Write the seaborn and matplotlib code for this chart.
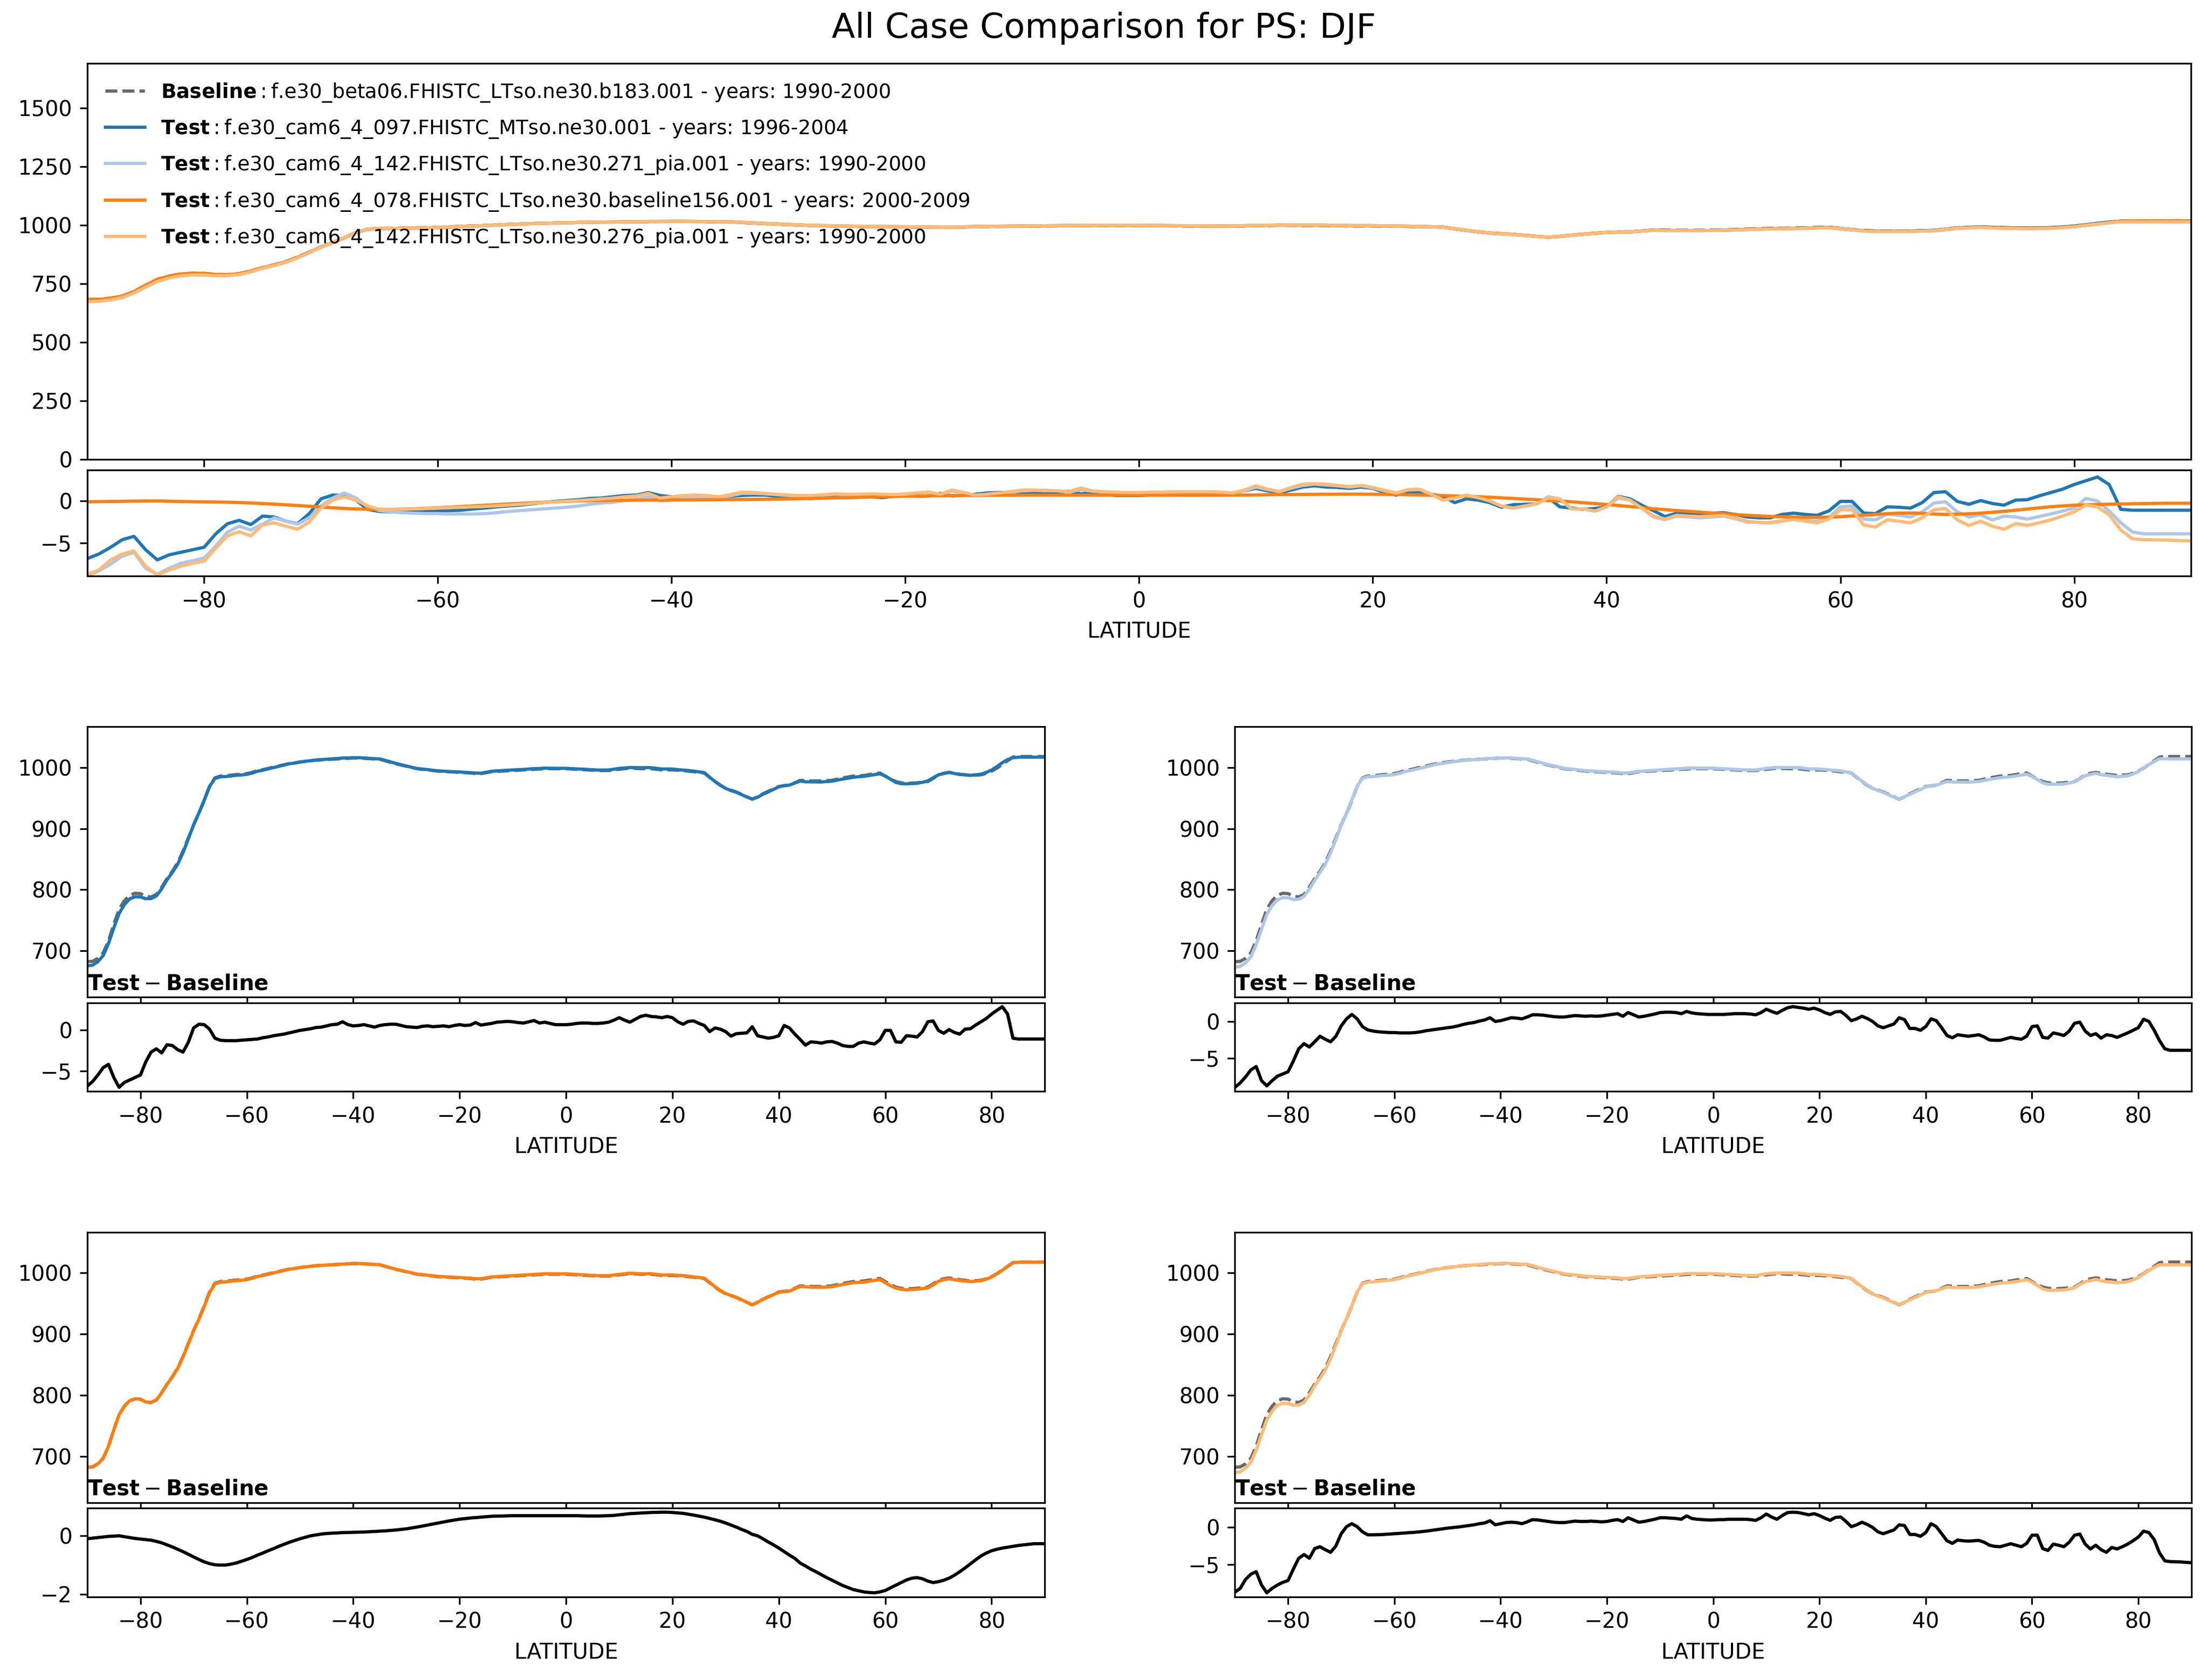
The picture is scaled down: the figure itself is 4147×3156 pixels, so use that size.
"""
All-case comparison of zonal-mean surface pressure (PS), DJF.

Top row   : every case on one axis, differences from the baseline underneath.
Lower rows: one panel per test case against the baseline, with its difference.
"""
import matplotlib
matplotlib.use("Agg")
import matplotlib.pyplot as plt
import numpy as np
import seaborn as sns

# ---------------------------------------------------------------- data
LAT = np.arange(-90, 91)   # 1-degree latitude grid, -90 .. 90

# baseline zonal-mean PS [hPa], -90 .. 90
BASELINE_PS = [
    682, 682.5, 687.5, 696.5, 716, 743, 768, 782, 791, 794,                  # -90
    793.5, 789, 788, 792, 804, 818, 830, 844, 863, 884.5,                    # -80
    906, 925, 946, 969, 983, 986, 986.5, 987.5, 988.5, 989,                  # -70
    990, 992, 995, 996.5, 998.5, 1000.5, 1002.5, 1004.5, 1006.5, 1007.5,     # -60
    1009, 1010, 1011, 1012, 1012.5, 1013, 1013.5, 1014, 1014.5, 1015,        # -50
    1015.5, 1015.5, 1015, 1014.5, 1014, 1013.5, 1011, 1008.5, 1006, 1004,    # -40
    1002, 1000, 998, 997, 996, 995, 994, 993.5, 993, 992.5,                  # -30
    992, 991.5, 991, 990, 990, 991.5, 993, 993.5, 994, 994.5,                # -20
    995, 995.5, 996, 996.5, 997, 997.5, 998, 998, 998, 998,                  # -10
    998, 997.5, 997, 996.5, 996, 995.5, 995, 995, 995, 996,                  # 0
    997, 998, 999, 998.5, 998, 998, 998, 997, 996, 996,                      # 10
    996, 995.5, 995, 994, 993, 992, 991, 984, 977, 971,                      # 20
    966, 963, 960, 956, 952, 948, 952, 957, 961, 965,                        # 30
    969, 970, 971, 975, 979, 978.5, 978, 978, 978, 978.5,                    # 40
    979, 981, 983, 984.5, 986, 986.5, 987, 988.5, 990, 991,                  # 50
    986, 981, 977, 975, 974, 974.5, 975, 976, 977, 982,                      # 60
    988, 990.5, 992, 990.5, 989, 988, 987, 987.5, 988, 990.5,                # 70
    994, 999, 1005, 1011, 1017, 1018, 1018, 1018, 1018, 1018,                # 80
    1018,                                                                    # 90
]

# test minus baseline [hPa], -90 .. 90
DIFF_097 = [
    -6.85, -6.3, -5.5, -4.6, -4.2, -5.8, -7.0, -6.4, -6.1, -5.8,
    -5.5, -3.9, -2.7, -2.3, -2.8, -1.8, -1.9, -2.4, -2.7, -1.5,
    0.25, 0.7, 0.65, 0.1, -1.0, -1.25, -1.3, -1.3, -1.3, -1.25,
    -1.2, -1.15, -1.1, -0.95, -0.85, -0.7, -0.6, -0.5, -0.35, -0.2,
    -0.05, 0.05, 0.15, 0.3, 0.35, 0.5, 0.65, 0.7, 1.0, 0.65,
    0.5, 0.55, 0.65, 0.5, 0.35, 0.55, 0.65, 0.7, 0.7, 0.55,
    0.4, 0.35, 0.3, 0.45, 0.5, 0.4, 0.45, 0.5, 0.4, 0.55,
    0.65, 0.55, 0.6, 0.9, 0.6, 0.7, 0.8, 0.95, 1.0, 1.05,
    1.0, 0.9, 0.85, 1.0, 1.15, 0.85, 0.95, 0.8, 0.65, 0.65,
    0.65, 0.7, 0.8, 0.85, 0.85, 0.8, 0.8, 0.85, 0.95, 1.2,
    1.5, 1.2, 0.95, 1.3, 1.65, 1.8, 1.65, 1.6, 1.5, 1.65,
    1.5, 1.0, 0.7, 1.05, 1.1, 0.8, 0.55, -0.2, 0.25, 0.1,
    -0.2, -0.75, -0.45, -0.4, -0.35, 0.4, -0.7, -0.85, -1.0, -0.9,
    -0.7, 0.55, 0.25, -0.5, -1.15, -1.85, -1.45, -1.5, -1.6, -1.45,
    -1.4, -1.6, -1.9, -2.0, -2.0, -1.6, -1.45, -1.6, -1.7, -1.2,
    -0.05, -0.05, -1.45, -1.5, -0.7, -0.75, -0.85, -0.2, 1.0, 1.1,
    -0.05, -0.4, 0.05, -0.3, -0.5, 0.1, 0.15, 0.6, 1.0, 1.4,
    1.95, 2.4, 2.85, 1.95, -1.0, -1.1, -1.1, -1.1, -1.1, -1.1,
    -1.1,
]
DIFF_142_271 = [
    -8.9, -8.3, -7.5, -6.55, -6.1, -8.0, -8.7, -8.0, -7.4, -7.1,
    -6.8, -5.35, -3.7, -3.0, -3.45, -2.75, -2.0, -2.4, -2.75, -2.0,
    -0.6, 0.35, 0.95, 0.35, -0.7, -1.15, -1.3, -1.4, -1.45, -1.5,
    -1.5, -1.55, -1.55, -1.55, -1.5, -1.4, -1.25, -1.15, -1.05, -0.95,
    -0.85, -0.75, -0.6, -0.4, -0.25, -0.15, 0.05, 0.2, 0.5, 0.0,
    0.1, 0.3, 0.5, 0.45, 0.35, 0.6, 0.9, 0.9, 0.85, 0.75,
    0.65, 0.6, 0.6, 0.7, 0.8, 0.75, 0.7, 0.75, 0.7, 0.75,
    0.85, 0.95, 1.05, 0.7, 1.2, 0.9, 0.6, 0.7, 0.85, 1.0,
    1.2, 1.25, 1.25, 1.2, 1.05, 1.35, 1.15, 1.05, 1.0, 0.95,
    0.95, 0.95, 0.95, 1.0, 1.05, 1.05, 1.05, 1.0, 0.9, 1.2,
    1.65, 1.35, 1.1, 1.5, 1.85, 2.0, 1.9, 1.8, 1.65, 1.8,
    1.55, 1.2, 0.95, 1.3, 1.35, 0.8, 0.1, 0.35, 0.7, 0.4,
    0.0, -0.6, -0.85, -0.6, -0.35, 0.5, 0.25, -0.95, -0.95, -1.2,
    -0.7, 0.35, 0.1, -0.85, -1.9, -2.2, -1.8, -1.9, -2.0, -1.9,
    -1.8, -2.1, -2.5, -2.55, -2.55, -2.35, -2.15, -2.3, -2.4, -2.0,
    -0.7, -0.6, -2.15, -2.25, -1.55, -1.7, -1.9, -1.3, -0.25, -0.1,
    -1.3, -1.9, -1.65, -2.25, -1.8, -1.9, -2.15, -1.85, -1.55, -1.2,
    -0.85, 0.3, 0.0, -1.2, -2.6, -3.7, -3.9, -3.9, -3.9, -3.9,
    -3.9,
]
DIFF_078 = [
    -0.1, -0.08, -0.06, -0.04, -0.02, -0.01, 0.0, -0.03, -0.06, -0.09,
    -0.11, -0.13, -0.15, -0.19, -0.24, -0.31, -0.38, -0.46, -0.54, -0.63,
    -0.72, -0.81, -0.89, -0.95, -0.99, -1.0, -1.0, -0.97, -0.93, -0.87,
    -0.81, -0.74, -0.66, -0.59, -0.51, -0.44, -0.36, -0.29, -0.22, -0.16,
    -0.1, -0.05, 0.0, 0.03, 0.06, 0.08, 0.09, 0.1, 0.11, 0.115,
    0.12, 0.125, 0.13, 0.14, 0.15, 0.16, 0.17, 0.185, 0.2, 0.22,
    0.24, 0.27, 0.3, 0.335, 0.37, 0.405, 0.44, 0.475, 0.51, 0.54,
    0.57, 0.59, 0.61, 0.625, 0.64, 0.655, 0.67, 0.675, 0.68, 0.685,
    0.69, 0.69, 0.69, 0.69, 0.69, 0.69, 0.69, 0.69, 0.69, 0.69,
    0.69, 0.69, 0.69, 0.685, 0.68, 0.68, 0.68, 0.685, 0.69, 0.7,
    0.72, 0.74, 0.76, 0.77, 0.78, 0.79, 0.8, 0.805, 0.81, 0.81,
    0.8, 0.785, 0.77, 0.74, 0.71, 0.675, 0.64, 0.595, 0.55, 0.5,
    0.44, 0.37, 0.3, 0.22, 0.15, 0.05, 0.0, -0.1, -0.21, -0.31,
    -0.42, -0.54, -0.66, -0.77, -0.93, -1.03, -1.14, -1.23, -1.33, -1.43,
    -1.52, -1.61, -1.7, -1.77, -1.84, -1.88, -1.92, -1.94, -1.95, -1.92,
    -1.87, -1.78, -1.69, -1.6, -1.51, -1.45, -1.43, -1.47, -1.55, -1.6,
    -1.57, -1.52, -1.45, -1.35, -1.23, -1.1, -0.96, -0.82, -0.69, -0.59,
    -0.51, -0.46, -0.42, -0.39, -0.36, -0.33, -0.31, -0.29, -0.27, -0.27,
    -0.27,
]
DIFF_142_276 = [
    -8.7, -8.2, -7.0, -6.3, -5.95, -7.75, -8.8, -8.2, -7.75, -7.4,
    -7.15, -5.6, -4.15, -3.65, -4.15, -2.85, -2.6, -3.0, -3.35, -2.5,
    -0.85, 0.1, 0.5, 0.1, -0.6, -1.0, -1.0, -0.98, -0.95, -0.9,
    -0.85, -0.8, -0.75, -0.7, -0.65, -0.58, -0.5, -0.4, -0.3, -0.2,
    -0.1, -0.02, 0.05, 0.15, 0.25, 0.35, 0.5, 0.6, 0.9, 0.35,
    0.5, 0.65, 0.7, 0.65, 0.5, 0.75, 1.05, 1.0, 0.9, 0.8,
    0.7, 0.65, 0.65, 0.75, 0.85, 0.8, 0.8, 0.85, 0.8, 0.75,
    0.8, 0.95, 1.05, 0.8, 1.3, 1.0, 0.7, 0.8, 0.95, 1.1,
    1.3, 1.3, 1.25, 1.2, 1.1, 1.55, 1.2, 1.1, 1.05, 1.0,
    1.0, 1.05, 1.05, 1.1, 1.1, 1.1, 1.1, 1.05, 0.95, 1.3,
    1.8, 1.4, 1.1, 1.6, 2.0, 2.05, 2.0, 1.85, 1.7, 1.85,
    1.6, 1.25, 0.95, 1.35, 1.4, 0.8, 0.1, 0.35, 0.7, 0.4,
    0.0, -0.6, -0.85, -0.6, -0.35, 0.35, 0.25, -0.95, -0.95, -1.2,
    -0.7, 0.5, 0.1, -0.85, -1.8, -2.15, -1.7, -1.8, -1.85, -1.8,
    -1.75, -2.0, -2.4, -2.55, -2.6, -2.4, -2.2, -2.4, -2.6, -2.15,
    -1.05, -1.05, -2.85, -3.1, -2.25, -2.4, -2.6, -2.0, -1.05, -0.9,
    -2.25, -2.9, -2.4, -3.0, -3.35, -2.7, -2.9, -2.6, -2.25, -1.8,
    -1.3, -0.5, -0.7, -1.65, -3.45, -4.5, -4.6, -4.62, -4.65, -4.7,
    -4.75,
]

BASELINE_CASE = "f.e30_beta06.FHISTC_LTso.ne30.b183.001"
BASELINE_YEARS = "1990-2000"
TEST_CASES = [
    "f.e30_cam6_4_097.FHISTC_MTso.ne30.001",
    "f.e30_cam6_4_142.FHISTC_LTso.ne30.271_pia.001",
    "f.e30_cam6_4_078.FHISTC_LTso.ne30.baseline156.001",
    "f.e30_cam6_4_142.FHISTC_LTso.ne30.276_pia.001",
]
TEST_YEARS = ["1996-2004", "1990-2000", "2000-2009", "1990-2000"]
TEST_DIFFS = [DIFF_097, DIFF_142_271, DIFF_078, DIFF_142_276]

# ---------------------------------------------------------------- style
_COLORS = sns.color_palette("tab20")[:4]
_BASE_COLOR = "dimgray"
_LW = 1.5
_DPI = 290

# axes rectangles, figure fractions [left, bottom, width, height]
_COL_X = [(0.0395, 0.4337), (0.5593, 0.4332)]
_ROW_Y = [(0.4065, 0.161, 0.3504, 0.0528), (0.1056, 0.161, 0.0495, 0.0528)]


def _line(ax, y, color, ls="-", label=None):
    sns.lineplot(x=LAT, y=y, ax=ax, color=color, lw=_LW, linestyle=ls,
                 label=label, legend=False)


def _finish_diff(ax):
    ax.set_xlim(-90, 90)
    ax.set_xticks(np.arange(-80, 81, 20))
    ax.set_xlabel("LATITUDE")
    ax.set_ylabel("")


def main():
    base = np.array(BASELINE_PS)
    tests = [base + np.array(d) for d in TEST_DIFFS]

    fig = plt.figure(figsize=(4147 / _DPI, 3156 / _DPI), dpi=_DPI)
    fig.suptitle("All Case Comparison for PS: DJF", fontsize=16, y=0.993)

    # --- all cases together
    ax = fig.add_axes([0.0395, 0.7267, 0.9528, 0.2355])
    _line(ax, base, _BASE_COLOR, "--",
          r"$\mathbf{Baseline}:$" + f"{BASELINE_CASE} - years: {BASELINE_YEARS}")
    for name, yrs, col, t in zip(TEST_CASES, TEST_YEARS, _COLORS, tests):
        _line(ax, t, col, label=r"$\mathbf{Test}:$" + f"{name} - years: {yrs}")
    ax.set_xlim(-90, 90)
    ax.set_ylim(0, 1690)
    ax.set_yticks(np.arange(0, 1501, 250))
    ax.set_xticks(np.arange(-80, 81, 20))
    ax.tick_params(labelbottom=False)
    ax.legend(loc="upper left", frameon=False, fontsize=9.3, labelspacing=0.7)

    axd = fig.add_axes([0.0395, 0.6572, 0.9528, 0.0629])
    for col, d in zip(_COLORS, TEST_DIFFS):
        _line(axd, d, col)
    axd.set_ylim(-8.9, 3.65)
    axd.set_yticks([-5, 0])
    _finish_diff(axd)

    # --- one panel per test case
    for i, (col, t, d) in enumerate(zip(_COLORS, tests, TEST_DIFFS)):
        x0, w = _COL_X[i % 2]
        yb, h, ydb, dh = _ROW_Y[i // 2]
        ax = fig.add_axes([x0, yb, w, h])
        _line(ax, base, _BASE_COLOR, "--")
        _line(ax, t, col)
        ax.set_xlim(-90, 90)
        ax.set_ylim(624, 1067)
        ax.set_yticks([700, 800, 900, 1000])
        ax.set_xticks(np.arange(-80, 81, 20))
        ax.tick_params(labelbottom=False)
        ax.text(0.0, 0.01, r"$\mathbf{Test} - \mathbf{Baseline}$",
                transform=ax.transAxes, ha="left", va="bottom", fontsize=10)

        axd = fig.add_axes([x0, ydb, w, dh])
        _line(axd, d, "black")
        axd.set_yticks([-2, 0] if min(d) > -3 else [-5, 0])
        _finish_diff(axd)

    fig.savefig("out.png", dpi=_DPI)
    plt.close(fig)


if __name__ == "__main__":
    main()
